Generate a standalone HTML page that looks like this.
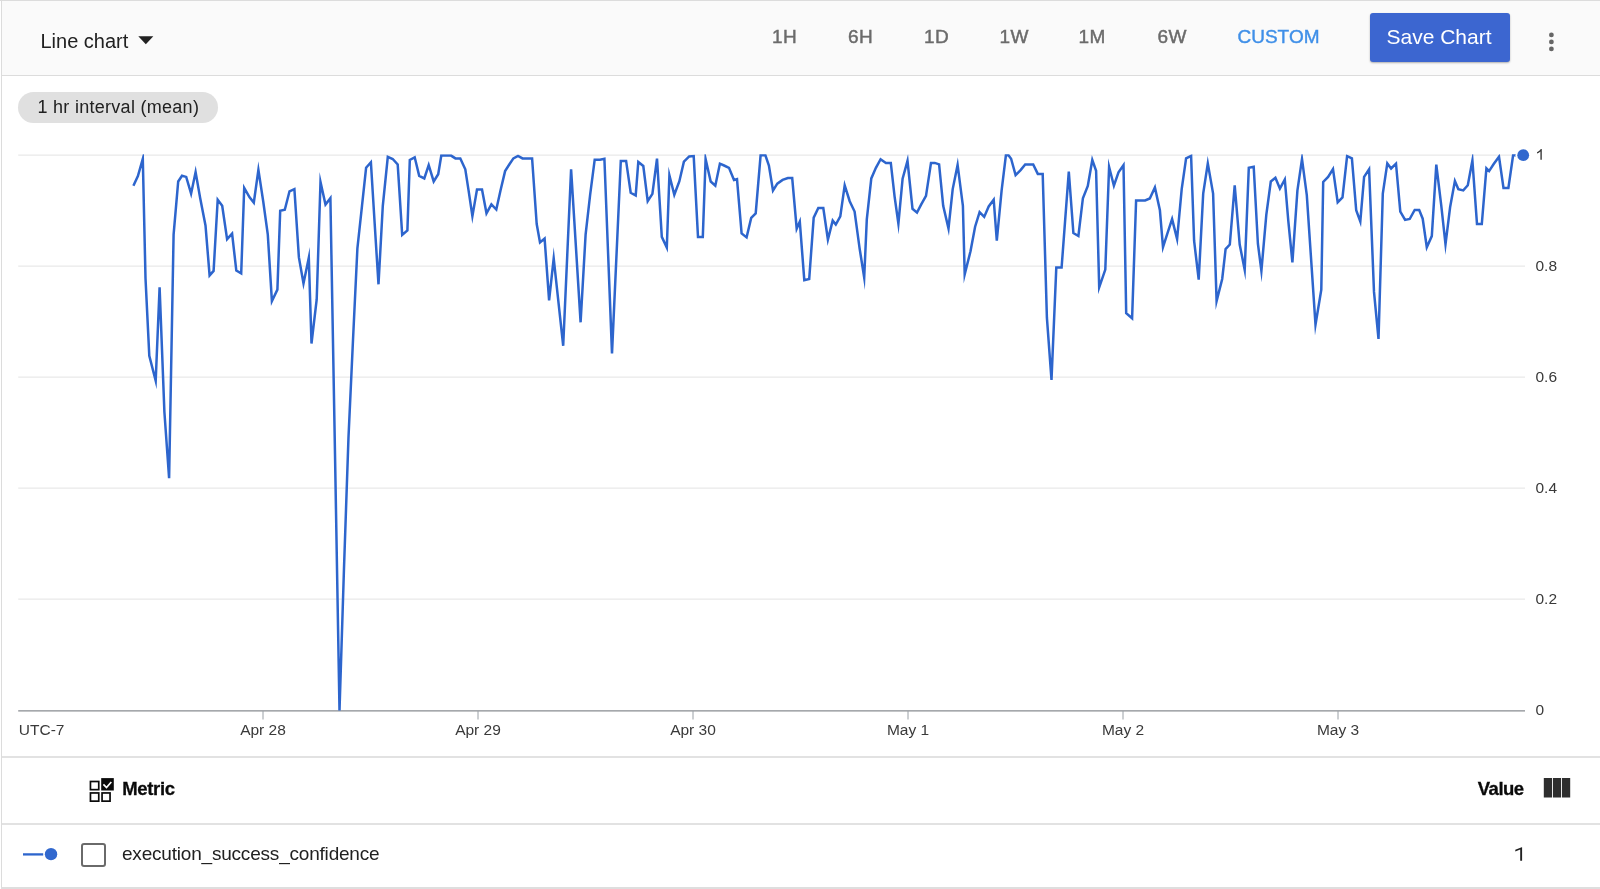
<!DOCTYPE html>
<html><head><meta charset="utf-8"><title>Line chart</title>
<style>
html,body{margin:0;padding:0;background:#fff;}
body{width:1600px;height:889px;position:relative;overflow:hidden;will-change:transform;font-family:"Liberation Sans",sans-serif;}
.abs{position:absolute;white-space:nowrap;line-height:1;}
.bd{position:absolute;background:#dcdcdc;}
#toolbar{position:absolute;left:2px;top:1px;width:1598px;height:74px;background:#fafafa;border-bottom:1px solid #dcdcdc;}
.rng{font-size:19px;color:#6b6b6b;top:27px;letter-spacing:0.5px;-webkit-text-stroke:0.45px #6b6b6b;}
.hr{position:absolute;left:2px;width:1598px;height:1.5px;background:#e2e2e2;}
svg text{font-family:"Liberation Sans",sans-serif;font-size:15.5px;fill:#3a3a3a;}
</style></head><body>
<div class="bd" style="left:0;top:0;width:1600px;height:1px;"></div>
<div class="bd" style="left:1.1px;top:0;width:1.2px;height:889px;"></div>
<div class="bd" style="left:1.1px;top:887.3px;width:1599px;height:1.7px;background:#dedede"></div>
<div id="toolbar"></div>
<div class="abs" id="lc" style="left:40.5px;top:30.5px;font-size:20px;color:#212121;">Line chart</div>
<svg class="abs" style="left:138px;top:36px" width="16" height="9" viewBox="0 0 16 9"><path d="M0.3 0.3 L15.3 0.3 L7.8 8.2 Z" fill="#212121"/></svg>
<div class="abs rng" id="r1" style="left:772px;">1H</div>
<div class="abs rng" id="r2" style="left:848px;">6H</div>
<div class="abs rng" id="r3" style="left:924px;">1D</div>
<div class="abs rng" id="r4" style="left:999.5px;">1W</div>
<div class="abs rng" id="r5" style="left:1078.5px;">1M</div>
<div class="abs rng" id="r6" style="left:1157.5px;">6W</div>
<div class="abs rng" id="r7" style="left:1237.5px;color:#3f8fe8;-webkit-text-stroke:0.4px #3f8fe8;letter-spacing:0;">CUSTOM</div>
<div class="abs" id="btn" style="left:1370px;top:13px;width:139.5px;height:49px;background:#3c66d0;border-radius:3px;box-shadow:0 1px 2px rgba(0,0,0,.3);"></div>
<div class="abs" id="btnt" style="left:1386.5px;top:25.5px;font-size:21px;color:#fff;">Save Chart</div>
<svg class="abs" style="left:1546px;top:30px" width="12" height="24"><circle cx="5.4" cy="4.9" r="2.4" fill="#666"/><circle cx="5.4" cy="11.9" r="2.4" fill="#666"/><circle cx="5.4" cy="18.9" r="2.4" fill="#666"/></svg>

<div class="abs" id="chip" style="left:18px;top:92px;width:200px;height:30.5px;border-radius:16px;background:#e0e0e0;"></div>
<div class="abs" id="chipt" style="left:37.5px;top:97.5px;font-size:18px;color:#212121;letter-spacing:0.28px;">1 hr interval (mean)</div>

<svg class="abs" style="left:0;top:0" width="1600" height="889" viewBox="0 0 1600 889">
<defs><clipPath id="cp"><rect x="0" y="154.2" width="1600" height="560"/></clipPath></defs>
<line x1="18.2" x2="1525" y1="155.20" y2="155.20" stroke="#e9e9e9" stroke-width="1.25"/>
<line x1="18.2" x2="1525" y1="266.20" y2="266.20" stroke="#e9e9e9" stroke-width="1.25"/>
<line x1="18.2" x2="1525" y1="377.10" y2="377.10" stroke="#e9e9e9" stroke-width="1.25"/>
<line x1="18.2" x2="1525" y1="488.00" y2="488.00" stroke="#e9e9e9" stroke-width="1.25"/>
<line x1="18.2" x2="1525" y1="599.05" y2="599.05" stroke="#e9e9e9" stroke-width="1.25"/>
<line x1="18.2" x2="1525" y1="710.9" y2="710.9" stroke="#878b90" stroke-width="1.35"/>
<line x1="263" x2="263" y1="711" y2="719.5" stroke="#9aa0a6" stroke-width="1"/>
<line x1="478" x2="478" y1="711" y2="719.5" stroke="#9aa0a6" stroke-width="1"/>
<line x1="693" x2="693" y1="711" y2="719.5" stroke="#9aa0a6" stroke-width="1"/>
<line x1="908" x2="908" y1="711" y2="719.5" stroke="#9aa0a6" stroke-width="1"/>
<line x1="1123" x2="1123" y1="711" y2="719.5" stroke="#9aa0a6" stroke-width="1"/>
<line x1="1338" x2="1338" y1="711" y2="719.5" stroke="#9aa0a6" stroke-width="1"/>
<polyline points="133.4,185.7 137.9,176.1 142.8,158.8 145.5,278.2 149.3,355.7 155.7,380.8 159.6,287.3 164.4,412.0 169.1,478.2 173.6,234.6 178.2,181.5 182.0,175.7 186.2,176.9 191.1,193.7 195.6,172.1 200.2,198.2 205.5,225.5 209.6,275.4 213.6,270.9 217.7,199.7 222.2,205.8 227.1,239.2 232.1,233.6 236.3,270.6 241.2,273.4 244.2,187.9 249.6,197.4 253.8,202.6 258.4,169.9 263.2,201.2 267.8,234.6 271.9,301.2 277.4,289.6 280.2,210.7 284.8,209.7 289.5,191.3 294.4,189.2 298.9,257.4 303.5,283.4 308.8,257.7 311.5,343.5 316.7,299.5 320.5,181.9 325.5,204.6 330.4,198.2 335.0,454.0 339.5,710.5 344.0,568.0 348.5,437.0 353.0,340.0 357.4,248.3 362.0,205.8 366.1,167.8 370.9,162.3 374.7,224.0 378.5,284.3 382.8,205.8 387.8,156.8 392.7,159.0 397.7,164.4 402.2,234.9 407.4,230.4 409.8,159.9 414.7,157.3 419.2,175.8 424.3,178.4 428.7,165.2 433.7,181.4 438.2,174.2 441.3,155.6 451.1,155.6 455.4,158.4 460.3,158.4 465.3,169.3 468.6,190.6 472.4,216.1 477.0,189.5 482.0,189.5 486.5,213.3 491.4,204.4 496.3,209.5 500.5,190.6 505.1,171.1 509.6,164.0 513.4,158.4 518.0,155.9 522.5,158.4 532.1,158.4 536.7,224.0 540.0,242.4 544.6,238.5 549.1,300.3 553.7,258.4 563.2,345.8 571.1,169.3 580.6,322.3 585.6,234.6 590.1,195.1 594.7,159.7 600.0,159.7 604.4,158.7 612.0,353.4 620.8,160.9 626.1,160.9 630.7,192.8 635.7,195.4 638.3,162.0 643.3,166.0 647.7,201.2 652.4,193.9 657.0,158.7 661.8,236.9 666.8,247.6 669.4,175.3 674.3,194.8 679.3,181.5 683.9,161.7 689.2,156.4 693.7,156.1 698.0,236.9 702.8,236.9 705.6,159.0 710.7,181.5 715.3,185.7 719.9,163.7 724.1,165.5 729.0,167.8 734.0,180.0 737.0,179.2 741.6,233.4 746.6,237.4 751.2,217.9 755.7,213.4 760.6,155.3 765.4,155.3 768.9,165.5 773.0,190.6 777.3,183.7 782.6,179.9 787.9,178.1 792.2,178.1 796.7,228.7 799.8,221.6 804.3,280.2 809.2,279.0 813.7,217.6 818.3,208.0 823.3,208.0 827.9,239.5 832.7,220.6 835.8,224.5 840.3,216.4 844.7,185.4 849.7,201.2 854.6,211.5 859.6,248.3 864.2,277.6 866.8,219.4 871.3,178.4 875.9,167.8 880.6,159.2 885.9,162.9 890.8,162.9 894.6,196.6 898.4,223.7 902.6,178.7 907.5,160.8 912.5,208.8 917.0,212.6 921.1,204.7 926.0,195.9 931.0,162.9 934.8,162.9 939.1,164.4 943.2,205.8 948.5,228.5 952.7,189.1 957.6,164.9 962.9,205.8 964.7,274.3 970.5,251.3 975.1,226.7 979.6,212.1 984.2,216.9 988.7,206.5 993.7,199.7 996.8,240.7 1001.6,190.6 1005.9,155.3 1008.5,155.3 1011.1,158.7 1015.6,175.1 1020.6,170.1 1025.2,164.4 1033.2,164.4 1037.8,173.9 1042.7,173.9 1046.9,317.7 1051.5,380.0 1056.3,267.6 1061.6,267.6 1065.1,220.9 1068.8,171.6 1073.4,233.1 1078.4,236.0 1082.9,198.2 1087.8,186.0 1092.3,160.0 1096.1,170.8 1099.2,287.4 1105.3,269.6 1109.1,166.9 1113.9,185.7 1118.5,172.3 1123.5,165.2 1126.2,313.2 1132.1,318.3 1136.1,200.4 1145.1,200.4 1149.8,198.5 1154.9,187.4 1159.9,210.3 1163.0,247.1 1167.5,233.1 1172.1,219.1 1177.1,239.1 1181.7,189.1 1186.1,158.4 1191.1,155.9 1194.1,240.7 1198.7,279.7 1203.2,193.6 1207.8,163.4 1213.1,193.6 1216.6,301.1 1222.2,279.0 1225.6,249.1 1229.8,244.5 1234.7,185.3 1239.7,244.5 1244.7,269.9 1248.8,167.8 1253.7,166.8 1257.9,243.7 1261.4,270.8 1266.3,214.9 1270.8,181.5 1275.4,177.8 1279.9,188.6 1284.8,179.5 1288.3,220.9 1292.4,262.3 1297.4,190.6 1302.0,159.1 1306.8,195.1 1315.5,324.6 1321.3,289.6 1323.2,181.9 1328.1,176.9 1333.0,169.0 1337.7,202.3 1342.5,197.4 1347.1,156.2 1351.9,158.4 1356.2,210.3 1360.3,221.6 1364.1,176.9 1369.1,169.2 1374.0,291.9 1378.5,339.0 1382.8,193.6 1387.3,163.4 1391.1,168.5 1396.0,163.7 1400.3,211.5 1405.1,219.9 1409.7,219.0 1414.7,210.0 1419.2,210.0 1422.7,218.7 1426.8,247.2 1431.8,236.1 1436.3,164.7 1441.3,205.8 1445.5,244.3 1450.1,207.3 1454.9,181.0 1458.3,189.1 1463.3,190.4 1467.8,185.3 1472.4,160.5 1477.0,224.0 1481.8,224.0 1486.4,168.3 1489.1,171.1 1493.7,164.0 1499.0,156.7 1503.5,188.0 1508.4,188.0 1513.1,155.3 1523.2,155.3" fill="none" stroke="#2d65cd" stroke-width="2.5" clip-path="url(#cp)" stroke-linejoin="miter" stroke-miterlimit="10" stroke-linecap="butt"/>
<circle cx="1523.2" cy="155.15" r="7.7" fill="#fff"/><circle cx="1523.2" cy="155.15" r="5.9" fill="#3168ce"/>
<text x="263" y="735.3" text-anchor="middle">Apr 28</text>
<text x="478" y="735.3" text-anchor="middle">Apr 29</text>
<text x="693" y="735.3" text-anchor="middle">Apr 30</text>
<text x="908" y="735.3" text-anchor="middle">May 1</text>
<text x="1123" y="735.3" text-anchor="middle">May 2</text>
<text x="1338" y="735.3" text-anchor="middle">May 3</text>
<text x="18.8" y="735.3">UTC-7</text>
<text x="1535.5" y="270.7">0.8</text>
<text x="1535.5" y="381.6">0.6</text>
<text x="1535.5" y="492.5">0.4</text>
<text x="1535.5" y="603.5">0.2</text>
<text x="1535.5" y="715.4">0</text>
<path d="M1541.8 159.7 L1540.4 159.7 L1540.4 151.4 Q1539 152.7 1537 153.5 L1537 152.2 Q1539.7 151 1540.9 149 L1541.8 149 Z" fill="#3a3a3a"/>
</svg>

<div class="hr" style="top:756px"></div>
<div class="hr" style="top:823px"></div>

<svg class="abs" style="left:88px;top:776px" width="28" height="28" viewBox="0 0 28 28">
<rect x="2.45" y="5.5" width="8.3" height="8.15" fill="none" stroke="#0a0a0a" stroke-width="1.7"/>
<rect x="2.45" y="16.95" width="8.3" height="8.2" fill="none" stroke="#0a0a0a" stroke-width="1.7"/>
<rect x="14.05" y="16.95" width="8" height="8.2" fill="none" stroke="#0a0a0a" stroke-width="1.7"/>
<rect x="13.2" y="2.1" width="12.6" height="12.4" fill="#0a0a0a"/>
<path d="M15.4 8.4 L18.5 11.5 L23.3 6.0" fill="none" stroke="#fff" stroke-width="1.7"/>
</svg>
<div class="abs" id="metric" style="left:122.3px;top:779.7px;font-size:18.5px;font-weight:bold;color:#0a0a0a;letter-spacing:-0.35px;-webkit-text-stroke:0.3px #0a0a0a;">Metric</div>
<div class="abs" id="value" style="left:1477.8px;top:779.7px;font-size:18.5px;font-weight:bold;color:#0a0a0a;letter-spacing:-0.5px;-webkit-text-stroke:0.3px #0a0a0a;">Value</div>
<svg class="abs" style="left:1543px;top:777px" width="29" height="22"><rect x="0.8" y="1" width="8.2" height="19.5" fill="#2e2e2e"/><rect x="9.9" y="1" width="8.2" height="19.5" fill="#2e2e2e"/><rect x="19" y="1" width="8.2" height="19.5" fill="#2e2e2e"/></svg>

<svg class="abs" style="left:20px;top:845px" width="40" height="20"><line x1="3" x2="23.2" y1="9.4" y2="9.4" stroke="#2d65cd" stroke-width="2.3"/><circle cx="31.03" cy="9.15" r="6.2" fill="#3168ce"/></svg>
<div class="abs" style="left:81px;top:842.5px;width:24.5px;height:24px;box-sizing:border-box;border:2px solid #6a6a6a;border-radius:3px;background:#fff;"></div>
<div class="abs" id="leg" style="left:122px;top:843.8px;font-size:19px;color:#212121;letter-spacing:-0.2px;">execution_success_confidence</div>
<svg class="abs" id="one" style="left:1510px;top:840px" width="20" height="26" viewBox="1510 840 20 26"><path d="M1522.1 860.7 L1520.2 860.7 L1520.2 849.6 L1515.3 851.4 L1515.3 849.7 L1521.7 847.3 L1522.1 847.3 Z" fill="#212121"/></svg>
</body></html>
